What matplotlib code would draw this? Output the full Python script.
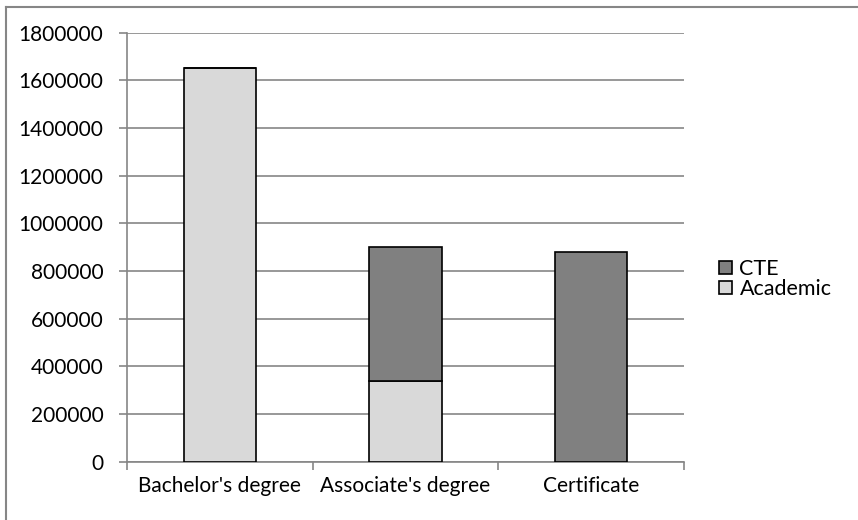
import matplotlib.pyplot as plt
import numpy as np
from matplotlib.lines import Line2D
from matplotlib.patches import Patch

categories = ["Bachelor's degree", "Associate's degree", "Certificate"]
academic = [1650000, 340000, 0]
cte = [0, 562000, 878000]
yticks = [0, 200000, 400000, 600000, 800000, 1000000, 1200000, 1400000, 1600000, 1800000]

plt.rcParams['font.family'] = ['Lato', 'DejaVu Sans']
grey = '#868686'

fig = plt.figure(figsize=(8.58, 5.2), dpi=100)
ax = fig.add_axes([127 / 858, 1 - 461.7 / 520, (684 - 127) / 858, (461.7 - 32.7) / 520])

x = np.arange(len(categories))
w = 0.39
ax.bar(x, academic, w, color='#d9d9d9', edgecolor='black', linewidth=1.2, label='Academic', zorder=3)
ax.bar(x, cte, w, bottom=academic, color='#808080', edgecolor='black', linewidth=1.2, label='CTE', zorder=3)

ax.set_xlim(-0.5, 2.5)
ax.set_ylim(0, 1800000)
ax.set_yticks(yticks)
ax.set_yticklabels([str(v) for v in yticks], fontsize=15)
ax.yaxis.grid(True, color=grey, linewidth=1.2, zorder=0)

# category labels centred, ticks on the boundaries between them
ax.set_xticks([-0.5, 0.5, 1.5, 2.5])
ax.set_xticklabels([])
ax.set_xticks(x, minor=True)
ax.set_xticklabels(categories, minor=True, fontsize=15)
ax.tick_params(axis='x', which='minor', length=0, pad=10)
ax.tick_params(axis='x', which='major', length=6, color=grey, width=1.2)
ax.tick_params(axis='y', length=6, color=grey, width=1.2, pad=11)

for side in ['top', 'right']:
    ax.spines[side].set_visible(False)
for side in ['left', 'bottom']:
    ax.spines[side].set_color(grey)
    ax.spines[side].set_linewidth(1.2)

handles = [Patch(facecolor='#808080', edgecolor='black', linewidth=1.2, label='CTE'),
           Patch(facecolor='#d9d9d9', edgecolor='black', linewidth=1.2, label='Academic')]
fig.legend(handles=handles, loc='center left', bbox_to_anchor=(719 / 858, 1 - 279 / 520),
           frameon=False, fontsize=15.5, handlelength=0.6, handleheight=0.6,
           handletextpad=0.35, labelspacing=0.0, borderaxespad=0, borderpad=0)

# chart area border
fig.add_artist(Line2D([5.5 / 858, 5.5 / 858], [0, 1 - 7 / 520], transform=fig.transFigure,
                      color=grey, linewidth=1.5))
fig.add_artist(Line2D([5.5 / 858, 1], [1 - 7 / 520, 1 - 7 / 520], transform=fig.transFigure,
                      color=grey, linewidth=1.5))

fig.savefig('out.png', dpi=100)
